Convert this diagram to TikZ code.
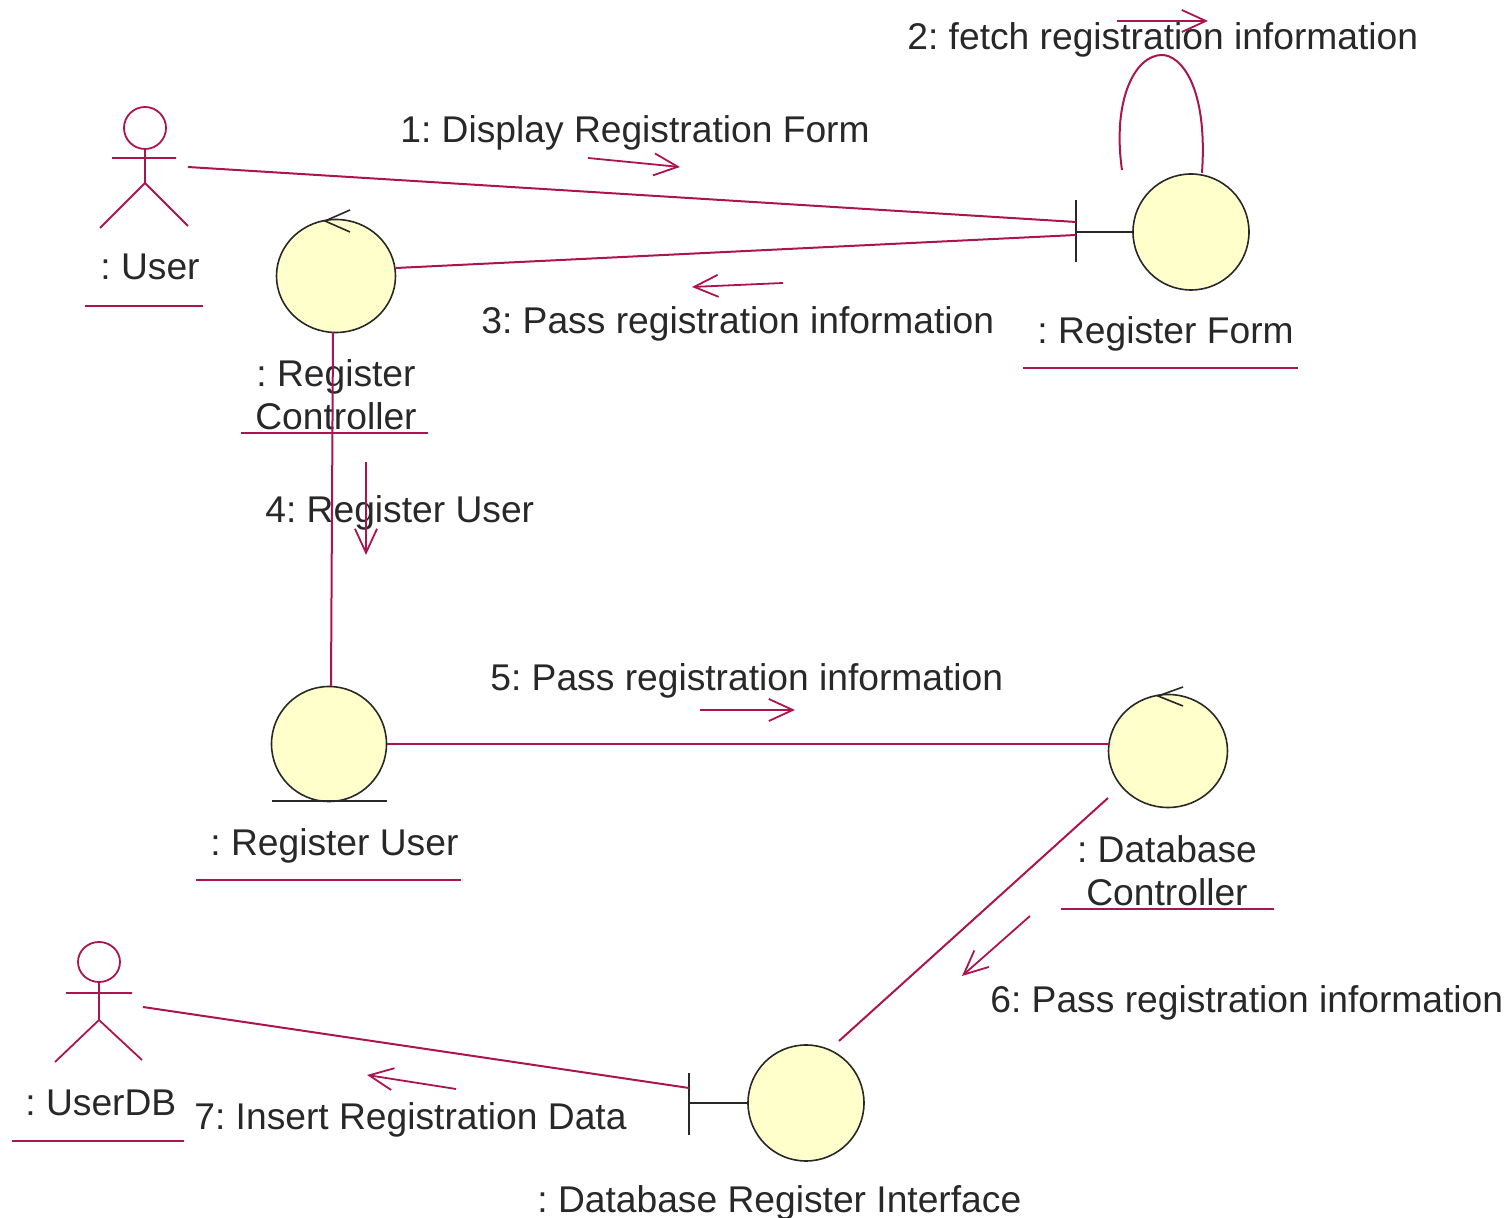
\documentclass[tikz,border=0pt]{standalone}
\usepackage{fontspec}
\setmainfont{Liberation Sans}
\usetikzlibrary{positioning, shapes.geometric, arrows.meta}
\definecolor{linkred}{RGB}{172, 20, 80}
\definecolor{ballyellow}{RGB}{255, 255, 204}
\definecolor{inkgray}{RGB}{40, 40, 40}
\frenchspacing

\begin{document}
\begin{tikzpicture}[
  x=0.5pt, y=-0.5pt,
  ball/.style={ellipse, draw=inkgray, fill=ballyellow, line width=0.8pt, inner sep=0pt, minimum width=58pt, minimum height=58pt},
  caption/.style={anchor=base west, inner sep=0pt, text=inkgray, font=\fontsize{18.6}{21.5}\selectfont},
  twoline/.style={anchor=center, inner sep=0pt, align=center, text=inkgray, font=\fontsize{18.6}{21.5}\selectfont},
  link/.style={linkred, line width=1pt},
  figure/.style={linkred, line width=0.9pt},
  glyph/.style={inkgray, line width=0.8pt},
  msg/.style={-{Straight Barb[length=12pt, width=11pt]}, linkred, line width=0.9pt}
]
\useasboundingbox (0,0) rectangle (1512,1218);

% Balls
\node[ball] (form) at (1191,232) {};
\node[ball, minimum width=59.5pt, minimum height=56.5pt] (ctrl) at (336,276) {};
\node[ball, minimum width=57.5pt, minimum height=57.5pt] (reguser) at (329,744) {};
\node[ball, minimum width=59.5pt, minimum height=56.5pt] (dbctrl) at (1168,751) {};
\node[ball] (dbif) at (806,1103) {};

% Actors
\draw[figure] (145,128) ellipse [x radius=21, y radius=21];
\draw[figure] (145,149) -- (145,183) (112,158) -- (176,158) (100,228) -- (145,183) -- (188,226);
\draw[figure] (99,962) ellipse [x radius=21, y radius=20];
\draw[figure] (99,982) -- (99,1020) (66,993) -- (132,993) (55,1062) -- (99,1020) -- (142,1060);

% Boundary and entity marks
\coordinate (formbar) at (1076,232);
\coordinate (dbifbar) at (689,1103);
\draw[glyph] (1076,200) -- (1076,262);
\draw[glyph] (689,1073) -- (689,1135);
\draw[glyph] (formbar) -- (form);
\draw[glyph] (dbifbar) -- (dbif);
\draw[glyph] (272,801) -- (387,801);

% Control marks
\draw[glyph] (350,210) -- (325,221) -- (350,232);
\draw[glyph] (1183,687) -- (1158,696) -- (1183,706);

% Labels
\node[caption] (msg1) at (400,143) {1: Display Registration Form};
\node[caption] (msg2) at (907,50) {2: fetch registration information};
\node[caption] (msg3) at (481,334) {3: Pass registration information};
\node[caption] (msg4) at (265,523) {4: Register User};
\node[caption] (msg5) at (490,691) {5: Pass registration information};
\node[caption] (msg6) at (990,1013) {6: Pass registration information};
\node[caption] (msg7) at (194,1130) {7: Insert Registration Data};
\node[caption] (userlabel) at (100,280) {: User};
\node[caption] (formlabel) at (1037,344) {: Register Form};
\node[twoline] (ctrllabel) at (336,395) {: Register\\Controller};
\node[caption] (reguserlabel) at (210,856) {: Register User};
\node[twoline] (dbctrllabel) at (1167,871) {: Database\\Controller};
\node[caption] (userdblabel) at (25,1116) {: UserDB};
\node[caption] (dbiflabel) at (537,1213) {: Database Register Interface};

% Underlines
\draw[figure] (85,306) -- (203,306);
\draw[figure] (1023,368) -- (1298,368);
\draw[figure] (241,433) -- (428,433);
\draw[figure] (196,880) -- (461,880);
\draw[figure] (1061,909) -- (1274,909);
\draw[figure] (12,1141) -- (184,1141);

% Associations
\coordinate (userhand) at (188,167);
\coordinate (formtop) at (1076,222);
\coordinate (formlow) at (1076,235);
\coordinate (ctrlright) at (396,268);
\coordinate (ctrlfoot) at (333,332);
\coordinate (regusertop) at (331,686);
\coordinate (dbuserhand) at (143,1007);
\coordinate (dbiftop) at (689,1088);
\coordinate (dbctrlfoot) at (1108,798);
\coordinate (dbifhead) at (839,1041);
\coordinate (reguserright) at (387,744);
\coordinate (dbctrlleft) at (1110,744);
\draw[link] (userhand) -- (formtop);
\draw[link] (ctrlright) -- (formlow);
\draw[link] (ctrlfoot) -- (regusertop);
\draw[link] (reguserright) -- (dbctrlleft);
\draw[link] (dbctrlfoot) -- (dbifhead);
\draw[link] (dbiftop) -- (dbuserhand);
\draw[link] (1202,173) .. controls (1208,85) and (1180,55) .. (1162,55) .. controls (1135,55) and (1112,100) .. (1122,170);

% Messages
\draw[msg] (588,158) -- (680,167);
\draw[msg] (1117,21) -- (1208,21);
\draw[msg] (783,283) -- (692,287);
\draw[msg] (366,462) -- (366,555);
\draw[msg] (700,710) -- (795,710);
\draw[msg] (1030,916) -- (962,976);
\draw[msg] (456,1089) -- (367,1075);

\end{tikzpicture}
\end{document}
